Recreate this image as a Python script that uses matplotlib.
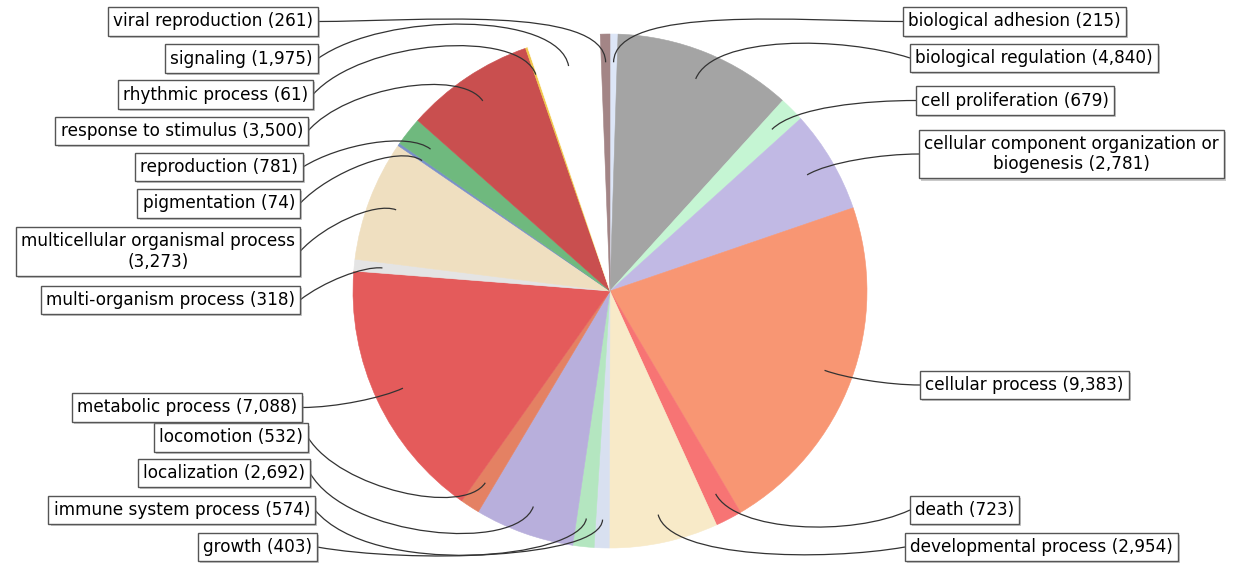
import numpy as np
import matplotlib
matplotlib.use("Agg")
import matplotlib.pyplot as plt
from matplotlib.path import Path
from matplotlib.patches import PathPatch
import matplotlib.patheffects as pe

# GO biological process counts (clockwise from 12 o'clock)
categories = ["biological adhesion", "biological regulation", "cell proliferation",
              "cellular component organization or\nbiogenesis", "cellular process", "death",
              "developmental process", "growth", "immune system process", "localization",
              "locomotion", "metabolic process", "multi-organism process",
              "multicellular organismal process\n", "pigmentation", "reproduction",
              "response to stimulus", "rhythmic process", "signaling", "viral reproduction"]
counts = [215, 4840, 679, 2781, 9383, 723, 2954, 403, 574, 2692,
          532, 7088, 318, 3273, 74, 781, 3500, 61, 1975, 261]
colors = ["#dde6f7", "#a4a4a4", "#c5f5d3", "#c1b9e4", "#f89673", "#f77474",
          "#f8eac8", "#d8e0f0", "#b4e6c0", "#b8afdc", "#e48163", "#e45b5b",
          "#e4e4e4", "#efdfc0", "#7a90c8", "#6fb97e", "#c94f4f", "#f2c94e",
          "#ffffff", "#a38586"]

# label layout in pixels from top-left: side, box edge x, box centre y, line tilt at box (deg)
layout = [("R", 903, 21.5, 0), ("R", 910, 58, 18), ("R", 916, 100.5, 0),
          ("R", 919, 154, 0), ("R", 920, 385, 0), ("R", 910, 510, -25),
          ("R", 905, 547, -10), ("L", 317, 547, -10), ("L", 315, 510, -50),
          ("L", 310, 473, -60), ("L", 308, 437.5, -58), ("L", 302, 407.5, 0),
          ("L", 300, 300, 38), ("L", 300, 251.5, 48), ("L", 300, 203.5, 47),
          ("L", 303, 167, 32), ("L", 308, 131, 49), ("L", 313, 94.5, 48),
          ("L", 318, 58.5, 35), ("L", 318, 21.5, 0)]

W, H = 1241, 563
cx, cy, R = 610, H - 291, 257
fs = 12.2
pad = 0.3

fig = plt.figure(figsize=(W / 100, H / 100), dpi=100)
ax = fig.add_axes([0, 0, 1, 1])
wedges, _ = ax.pie(counts, colors=colors, startangle=90, counterclock=False,
                   center=(cx, cy), radius=R)
for w in wedges:
    w.set_edgecolor(w.get_facecolor())
    w.set_linewidth(0.4)
ax.set_xlim(0, W)
ax.set_ylim(0, H)
ax.set_aspect("equal")
ax.axis("off")

pad_px = pad * fs * 100 / 72
total = sum(counts)
start = 0.0
for name, n, (side, bx, by, tilt) in zip(categories, counts, layout):
    span = 360.0 * n / total
    mid = np.radians(start + span / 2)
    start += span
    u = np.array([np.sin(mid), np.cos(mid)])
    A = np.array([cx, cy]) + 0.89 * R * u
    B = np.array([bx, H - by])
    sgn = 1 if side == "L" else -1
    d = np.hypot(*(A - B))
    t = np.radians(tilt)
    P1 = B + 0.33 * d * np.array([sgn * np.cos(t), np.sin(t)])
    P2 = A + 0.22 * d * u
    P2[1] = min(max(P2[1], 4), H - 4)
    path = Path([B, P1, P2, A], [Path.MOVETO, Path.CURVE4, Path.CURVE4, Path.CURVE4])
    ax.add_patch(PathPatch(path, fc="none", ec="#333333", lw=0.9, zorder=3))

    if name.endswith("\n"):
        txt = name + "({:,})".format(n)
    elif "\n" in name:
        txt = name + " ({:,})".format(n)
    else:
        txt = "{} ({:,})".format(name, n)
    if side == "L":
        tx, ha = bx - pad_px, "right"
    else:
        tx, ha = bx + pad_px, "left"
    t_obj = ax.text(tx, H - by, txt, ha=ha, va="center", fontsize=fs,
                    family="DejaVu Sans", multialignment="center", zorder=5,
                    linespacing=1.2,
                    bbox=dict(boxstyle="square,pad=%s" % pad, fc="white",
                              ec="#555555", lw=1))
    t_obj.get_bbox_patch().set_path_effects(
        [pe.SimplePatchShadow(offset=(1.5, -1.5), shadow_rgbFace="#888888", alpha=0.45),
         pe.Normal()])

fig.savefig("out.png", dpi=100)
